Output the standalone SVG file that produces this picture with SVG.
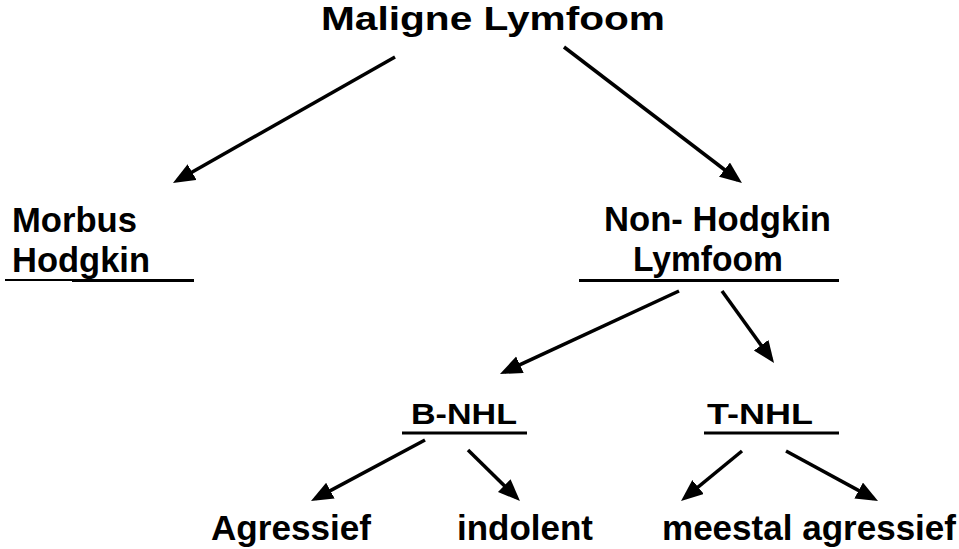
<svg xmlns="http://www.w3.org/2000/svg" width="959" height="549" viewBox="0 0 959 549">
<style>
  text { font-family: "Liberation Sans", Arial, sans-serif; font-weight: bold; fill: #000; }
  .edge { stroke: #000; stroke-width: 3.5; fill: none; marker-end: url(#arrow); }
  .ul { stroke: #000; stroke-width: 3; }
</style>
<defs>
  <marker id="arrow" markerUnits="userSpaceOnUse" markerWidth="24" markerHeight="20" refX="17" refY="9" orient="auto">
    <path d="M0,0 L22,9 L0,18 z" fill="#000"/>
  </marker>
</defs>
<rect width="959" height="549" fill="#fff"/>
<g id="connectors">
  <line class="edge" x1="395" y1="57" x2="177.3" y2="180.5"/>
  <line class="edge" x1="564" y1="47" x2="738" y2="180"/>
  <line class="edge" x1="679" y1="291" x2="504.5" y2="371.9"/>
  <line class="edge" x1="722" y1="291" x2="771.1" y2="359"/>
  <line class="edge" x1="425" y1="440" x2="315.4" y2="498.6"/>
  <line class="edge" x1="468" y1="450" x2="516.4" y2="497.5"/>
  <line class="edge" x1="742" y1="451" x2="684.9" y2="497.8"/>
  <line class="edge" x1="786" y1="451" x2="873.6" y2="498.6"/>
</g>
<g id="maligne-lymfoom">
  <text x="321" y="30" font-size="33" textLength="344" lengthAdjust="spacingAndGlyphs">Maligne Lymfoom</text>
</g>
<g id="morbus-hodgkin">
  <text x="12" y="232" font-size="35" textLength="125" lengthAdjust="spacingAndGlyphs">Morbus</text>
  <text x="12" y="272" font-size="35" textLength="138" lengthAdjust="spacingAndGlyphs">Hodgkin</text>
  <line x1="5" y1="280" x2="72" y2="280" stroke="#000" stroke-width="2"/>
  <line class="ul" x1="72" y1="280.5" x2="194" y2="280.5"/>
</g>
<g id="non-hodgkin">
  <text x="604" y="231" font-size="35" textLength="227" lengthAdjust="spacingAndGlyphs">Non- Hodgkin</text>
  <text x="633" y="271" font-size="35" textLength="150" lengthAdjust="spacingAndGlyphs">Lymfoom</text>
  <line class="ul" x1="579" y1="280.5" x2="839" y2="280.5"/>
</g>
<g id="b-nhl">
  <text x="411" y="424" font-size="30" textLength="106" lengthAdjust="spacingAndGlyphs">B-NHL</text>
  <line class="ul" x1="402" y1="433" x2="527" y2="433"/>
</g>
<g id="t-nhl">
  <text x="707" y="424" font-size="30" textLength="106" lengthAdjust="spacingAndGlyphs">T-NHL</text>
  <line class="ul" x1="704" y1="433" x2="839" y2="433"/>
</g>
<g id="agressief">
  <text x="211" y="540" font-size="35" textLength="160" lengthAdjust="spacingAndGlyphs">Agressief</text>
</g>
<g id="indolent">
  <text x="457" y="540" font-size="35" textLength="136" lengthAdjust="spacingAndGlyphs">indolent</text>
</g>
<g id="meestal-agressief">
  <text x="662" y="540" font-size="35" textLength="294" lengthAdjust="spacingAndGlyphs">meestal agressief</text>
</g>
</svg>
